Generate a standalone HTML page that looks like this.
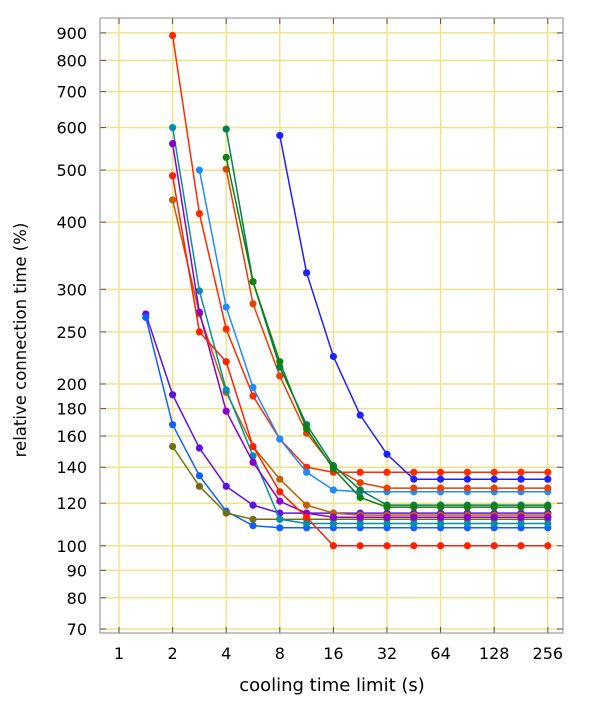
<!DOCTYPE html>
<html><head><meta charset="utf-8"><style>
html,body{margin:0;padding:0;background:#fff;}
svg text{font-family:"DejaVu Sans","Liberation Sans",sans-serif;font-size:16px;fill:#000;}
</style></head><body>
<svg id="s" width="600" height="700" xmlns="http://www.w3.org/2000/svg"></svg>
<script>
const s=document.getElementById('s');
const L=100,R=563,T=18,B=633;
const X=v=>119+53.6*Math.log2(v);
const Y=v=>629-233.4*Math.log(v/70);
let h='';
h+=`<rect x="${L}" y="${T}" width="${R-L}" height="${B-T}" fill="#fff"/>`;
const yt=[900,800,700,600,500,400,300,250,200,180,160,140,120,100,90,80,70];
const xt=[1,2,4,8,16,32,64,128,256];
for(const v of yt){const y=Y(v);h+=`<line x1="${L}" x2="${R}" y1="${y}" y2="${y}" stroke="#efe38a" stroke-width="1.5"/>`;
h+=`<line x1="${L}" x2="${L+6}" y1="${y}" y2="${y}" stroke="#555"/><line x1="${R-6}" x2="${R}" y1="${y}" y2="${y}" stroke="#555"/>`;
h+=`<text x="${L-13}" y="${y+6}" text-anchor="end">${v}</text>`;}
for(const v of xt){const x=X(v);h+=`<line x1="${x}" x2="${x}" y1="${T}" y2="${B}" stroke="#efe38a" stroke-width="1.5"/>`;
h+=`<line x1="${x}" x2="${x}" y1="${B-6}" y2="${B}" stroke="#555"/><line x1="${x}" x2="${x}" y1="${T}" y2="${T+6}" stroke="#555"/>`;
h+=`<text x="${x}" y="659" text-anchor="middle">${v}</text>`;}
h+=`<rect x="${L}" y="${T}" width="${R-L}" height="${B-T}" fill="none" stroke="#888" stroke-width="1"/>`;
function ser(c,start,vals,endv){
 const pts=[];let k=start;for(const v of vals){pts.push([X(Math.pow(2,k/2)),Y(v)]);k++;}
 while(k<=16){pts.push([X(Math.pow(2,k/2)),Y(endv)]);k++;}
 h+=`<polyline fill="none" stroke="${c}" stroke-width="1.5" points="${pts.map(p=>p.join(',')).join(' ')}"/>`;
 for(const p of pts)h+=`<circle cx="${p[0]}" cy="${p[1]}" r="3.6" fill="${c}"/>`;
}
ser('#6010e0',1,[270,191,152,129,119,115,115],115);
ser('#1060ff',1,[266,168,135,116,109,108],108);
ser('#707010',2,[153,129,115,112,112],112);
ser('#c06000',2,[440,270,193,153,133,119,115],114);
ser('#008fb0',2,[600,298,195,147,112,110],110);
ser('#8a00c8',2,[560,272,178,143,121,115,113],113);
ser('#ff2000',2,[488,250,220,153,126,113,100],100);
ser('#ff2a00',2,[890,415,253,190,158,140,137],137);
ser('#1e8cff',3,[500,278,197,158,137,127,126],126);
ser('#e84000',4,[502,282,207,162,140,131,128],128);
ser('#00804a',4,[596,310,215,168,141,127,119],119);
ser('#108010',4,[528,310,220,165,139,123,118],118);
ser('#2020ff',6,[580,322,225,175,148,133],133);
h+=`<text x="332" y="691" text-anchor="middle" style="font-size:18px">cooling time limit (s)</text>`;
h+=`<text transform="translate(26,340) rotate(-90)" text-anchor="middle" style="font-size:16.5px">relative connection time (%)</text>`;
s.innerHTML=h;
</script>
</body></html>
